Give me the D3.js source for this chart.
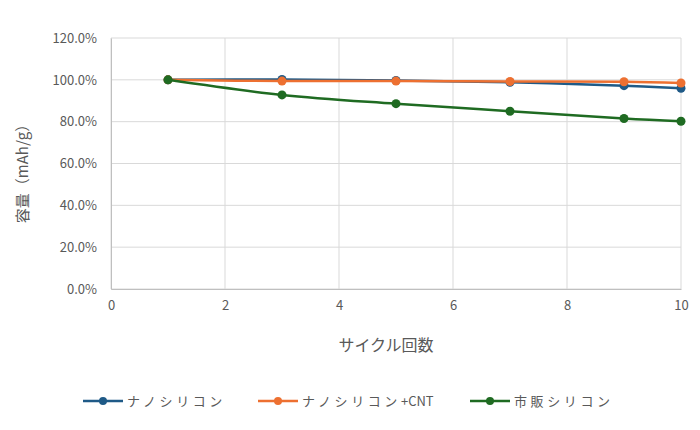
<!DOCTYPE html>
<html>
<head>
<meta charset="utf-8">
<script src="https://cdn.jsdelivr.net/npm/d3@7"></script>
<style>
  body { margin: 0; background: #fff; }
  text { font-family: "Noto Sans CJK JP", "Noto Sans", sans-serif; fill: #595959; }
</style>
</head>
<body>
<svg id="chart"></svg>
<script>
var svgWidth = 700,
    svgHeight = 430,
    margin = {top: 38, right: 19, bottom: 141, left: 111},
    width = svgWidth - margin.left - margin.right,
    height = svgHeight - margin.top - margin.bottom;

// data
var cycles = [1, 3, 5, 7, 9, 10];
var seriesNames = ['ナノシリコン', 'ナノシリコン+CNT', '市販シリコン'];
var nanoSi = [1.000, 1.002, 0.997, 0.988, 0.972, 0.960];
var nanoSiCnt = [1.000, 0.994, 0.994, 0.992, 0.991, 0.985];
var commercialSi = [1.000, 0.928, 0.886, 0.850, 0.815, 0.802];
var colors = ['#1f5a87', '#ed7031', '#1f6b22'];
var xTicks = [0, 2, 4, 6, 8, 10];
var yTicks = [0, 0.2, 0.4, 0.6, 0.8, 1.0, 1.2];

var series = [nanoSi, nanoSiCnt, commercialSi].map(function(vals, i) {
    return {name: seriesNames[i], color: colors[i],
            points: vals.map(function(v, j) { return {x: cycles[j], y: v}; })};
});

var xScale = d3.scaleLinear().domain([0, 10]).range([0, width]),
    yScale = d3.scaleLinear().domain([0, 1.2]).range([height, 0]);

var svg = d3.select('#chart')
    .attr('width', svgWidth)
    .attr('height', svgHeight);

var g = svg.append('g')
    .attr('transform', 'translate(' + margin.left + ',' + margin.top + ')');

// gridlines
g.selectAll('.hgrid').data(yTicks).enter().append('line')
    .attr('x1', 0).attr('x2', width)
    .attr('y1', function(d) { return yScale(d); })
    .attr('y2', function(d) { return yScale(d); })
    .attr('stroke', '#d9d9d9').attr('stroke-width', 1);

g.selectAll('.vgrid').data(xTicks).enter().append('line')
    .attr('y1', 0).attr('y2', height)
    .attr('x1', function(d) { return xScale(d); })
    .attr('x2', function(d) { return xScale(d); })
    .attr('stroke', '#d9d9d9').attr('stroke-width', 1);

// axes
var xAxis = d3.axisBottom(xScale).tickValues(xTicks).tickSize(0).tickPadding(12);
var yAxis = d3.axisLeft(yScale).tickValues(yTicks).tickSize(0).tickPadding(14)
    .tickFormat(d3.format('.1%'));

g.append('g').attr('transform', 'translate(0,' + height + ')').call(xAxis)
    .call(function(s) { s.select('.domain').attr('stroke', '#bfbfbf'); })
    .selectAll('text').style('font-size', '13px');

g.append('g').call(yAxis)
    .call(function(s) { s.select('.domain').attr('stroke', '#bfbfbf'); })
    .selectAll('text').style('font-size', '13px');

// axis titles
svg.append('text')
    .attr('x', margin.left + width / 2 - 10)
    .attr('y', 351)
    .attr('text-anchor', 'middle')
    .style('font-size', '16px')
    .text('サイクル回数');

svg.append('text')
    .attr('transform', 'translate(28,170) rotate(-90)')
    .attr('text-anchor', 'middle')
    .style('font-size', '15px')
    .text('容量（mAh/g）');

// lines
var line = d3.line()
    .x(function(d) { return xScale(d.x); })
    .y(function(d) { return yScale(d.y); })
    .curve(d3.curveCatmullRom.alpha(0.5));

var sg = g.selectAll('.series').data(series).enter().append('g');

sg.append('path')
    .attr('d', function(d) { return line(d.points); })
    .attr('fill', 'none')
    .attr('stroke', function(d) { return d.color; })
    .attr('stroke-width', 2.5);

sg.selectAll('circle')
    .data(function(d) { return d.points.map(function(p) { return {x: p.x, y: p.y, color: d.color}; }); })
    .enter().append('circle')
    .attr('cx', function(d) { return xScale(d.x); })
    .attr('cy', function(d) { return yScale(d.y); })
    .attr('r', 4.5)
    .attr('fill', function(d) { return d.color; });

// legend
var legendX = [83, 258, 470];
var legend = svg.selectAll('.legend').data(series).enter().append('g')
    .attr('transform', function(d, i) { return 'translate(' + legendX[i] + ',401)'; });

legend.append('line')
    .attr('x1', 0).attr('x2', 40)
    .attr('stroke', function(d) { return d.color; })
    .attr('stroke-width', 2.5);

legend.append('circle')
    .attr('cx', 20).attr('r', 4)
    .attr('fill', function(d) { return d.color; });

// kana spaced out, latin part tight like the original
legend.append('text')
    .attr('x', 44)
    .attr('dy', '0.35em')
    .style('font-size', '13px')
    .each(function(d) {
        var parts = d.name.match(/[^\x00-\x7f]+|[\x00-\x7f]+/g);
        var t = d3.select(this);
        parts.forEach(function(p) {
            t.append('tspan')
                .style('letter-spacing', /[\x00-\x7f]/.test(p) ? '0px' : '3.6px')
                .text(p);
        });
    });
</script>
</body>
</html>
